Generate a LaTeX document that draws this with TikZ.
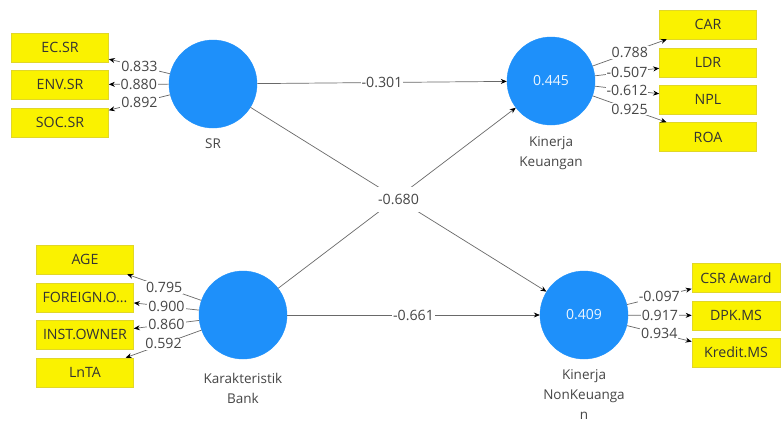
\documentclass[tikz,border=0pt]{standalone}
\usepackage{fontspec}
\setmainfont{Open Sans}
\usetikzlibrary{arrows.meta}
\definecolor{lvblue}{RGB}{30,144,250}
\definecolor{indyel}{RGB}{250,242,0}
\definecolor{indedge}{RGB}{225,215,40}
\definecolor{txtgrey}{RGB}{70,70,70}
\definecolor{linegrey}{RGB}{105,105,105}
\tikzset{
  lv/.style={circle, fill=lvblue, draw=lvblue, minimum size=88pt, inner sep=0pt, text=white!92!lvblue, font=\fontsize{14}{16}\selectfont},
  ind/.style={rectangle, fill=indyel, draw=indedge, line width=0.6pt, minimum width=97pt, minimum height=29pt, inner sep=0pt, text=black!80, font=\fontsize{14.2}{16}\selectfont},
  indr/.style={ind, minimum width=88pt},
  conn/.style={draw=linegrey, line width=0.7pt, -{Stealth[length=6pt,width=5pt,color=black]}},
  lab/.style={fill=white, inner sep=1pt, text=txtgrey, font=\fontsize{14.2}{16}\selectfont},
  biglab/.style={lab, inner xsep=4pt, inner ysep=7pt},
  lvname/.style={align=center, text=txtgrey, font=\fontsize{13.5}{20}\selectfont},
}
\begin{document}
\begin{tikzpicture}[x=1pt,y=-1pt]
\useasboundingbox[fill=white] (0,0) rectangle (781,423);
% latent variables
\node[lv] (sr) at (213,84) {};
\node[lv] (kk) at (551,81) {0.445};
\node[lv] (kb) at (243,315) {};
\node[lv] (knk) at (584,315) {0.409};
\node[lvname] (srn) at (213,144) {SR};
\node[lvname] (kkn) at (551,153) {Kinerja\\Keuangan};
\node[lvname] (kbn) at (243,388) {Karakteristik\\Bank};
\node[lvname] (knkn) at (584,395) {Kinerja\\NonKeuanga\\n};
% indicators
\node[ind] (ec) at (60,47.5) {EC.SR};
\node[ind] (env) at (60,84.5) {ENV.SR};
\node[ind] (soc) at (60,122.5) {SOC.SR};
\node[ind] (car) at (708,24.5) {CAR};
\node[ind] (ldr) at (708,62.5) {LDR};
\node[ind] (npl) at (708,99.5) {NPL};
\node[ind] (roa) at (708,137) {ROA};
\node[ind] (age) at (85,259.5) {AGE};
\node[ind] (foreign) at (85,297.5) {FOREIGN.O...};
\node[ind] (inst) at (85,334.5) {INST.OWNER};
\node[ind] (lnta) at (85,372.5) {LnTA};
\node[indr] (csr) at (736,278) {CSR Award};
\node[indr] (dpk) at (736,315.5) {DPK.MS};
\node[indr] (kredit) at (736,352.5) {Kredit.MS};
% structural paths
\draw[conn] (sr) -- node[lab] {-0.301} (kk);
\draw[conn] (kb) -- (kk);
\draw[conn] (sr) -- node[biglab] {-0.680} (knk);
\draw[conn] (kb) -- node[lab] {-0.661} (knk);
% loadings
\draw[conn] (sr) -- node[lab] {0.833} (ec);
\draw[conn] (sr) -- node[lab] {0.880} (env);
\draw[conn] (sr) -- node[lab] {0.892} (soc);
\draw[conn] (kk) -- node[lab] {0.788} (car);
\draw[conn] (kk) -- node[lab] {-0.507} (ldr);
\draw[conn] (kk) -- node[lab] {-0.612} (npl);
\draw[conn] (kk) -- node[lab] {0.925} (roa);
\draw[conn] (kb) -- node[lab] {0.795} (age);
\draw[conn] (kb) -- node[lab] {0.900} (foreign);
\draw[conn] (kb) -- node[lab] {0.860} (inst);
\draw[conn] (kb) -- node[lab] {0.592} (lnta);
\draw[conn] (knk) -- node[lab] {-0.097} (csr);
\draw[conn] (knk) -- node[lab] {0.917} (dpk);
\draw[conn] (knk) -- node[lab] {0.934} (kredit);
\end{tikzpicture}
\end{document}
